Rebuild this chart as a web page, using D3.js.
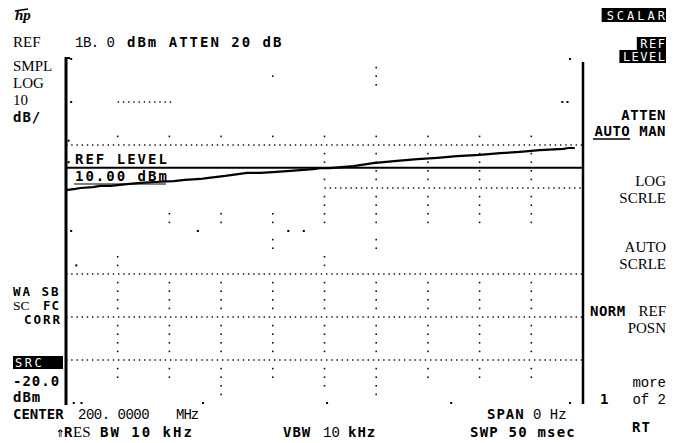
<!DOCTYPE html>
<html><head><meta charset="utf-8">
<script src="https://cdn.jsdelivr.net/npm/d3@7"></script>
<style>
body{margin:0;background:#fff}
.b{font-family:"DejaVu Sans Mono";font-weight:bold;font-size:14px;fill:#000}
.bs{font-family:"DejaVu Sans Mono";font-weight:bold;font-size:12.5px;fill:#000}
.s{font-family:"Liberation Serif";font-size:15px;fill:#000}
.ss{font-family:"Liberation Serif";font-size:13.5px;fill:#000}
.m{font-family:"Liberation Mono";font-size:14px;fill:#000}
.w{font-family:"DejaVu Sans Mono";font-size:12px;fill:#fff}
</style>
</head><body>
<svg id="c" width="682" height="443"></svg>
<script>
// ---- data ----
const sweepMs = [0,0.9,1.4,2.6,3.3,4.3,5.9,7.2,8.6,10.4,11.5,13.0,13.6,15.4,17.5,18.8,20.0,21.7,23.9,24.6,25.5,27.8,29.7,32.0,34.0,35.9,37.8,40.0,42.0,43.9,45.8,48.1,48.6,49.2];
const traceDb = [-12.5,-12.2,-12.0,-11.8,-11.5,-11.5,-11.1,-10.8,-10.6,-10.4,-10.1,-9.9,-9.7,-9.2,-8.5,-8.5,-8.3,-8.0,-7.6,-7.4,-7.4,-6.9,-6.2,-5.7,-5.3,-5.0,-4.6,-4.3,-3.9,-3.6,-3.2,-2.9,-2.7,-2.7];
const refLineDb = -7.3;
const topDb = 18, dbPerDiv = 10, vDivs = 8, hDivs = 10, sweepTime = 50;
const minorPerDiv = 5;
// graticule minor-dot rows (index of minor step from top) shown on each vertical division line
const colDots = {
  1:[9,23,24,26,27,28,29,31,32,33,34,36,37],
  2:[9,18,19,26,27,28,29,31,32,33,34,36,37],
  3:[9,18,19,26,27,28,29,31,32,33,34,36,37,38,39],
  4:[2,9,18,19,21,22,26,27,28,29,31,32,33,34,36,37],
  5:[9,11,12,14,16,17,18,19,23,24,26,27,28,29,31,32,33,34,36,37,38],
  6:[1,2,3,9,11,12,13,14,16,17,18,19,21,22,26,27,28,29,31,32,33,34,36,37,38,39],
  7:[9,11,12,13,14,16,17,18,19,26,27,28,29,31,32,33,34,36,37],
  8:[9,11,12,13,14,16,17,18,19,26,27,28,29,31,32,33,34,36,37],
  9:[9,11,12,13,14,16,17,18,19,26,27,28,29,31,32,33,34,36,37]
};
// dotted horizontal division lines: [division, fromDiv, toDiv]
const rowLines = [[1,1,2.05],[2,0,10],[3,5,10],[5,0,10],[6,0,10],[7,0,10]];

const svg = d3.select('#c');
const x = d3.scaleLinear().domain([0, sweepTime]).range([66, 583]);
const y = d3.scaleLinear().domain([topDb, topDb - vDivs*dbPerDiv]).range([59, 403]);
const xd = d3.scaleLinear().domain([0, hDivs]).range([66, 583]);
const yk = k => y(topDb - k*dbPerDiv/minorPerDiv);

// horizontal dotted graticule
svg.append('g').selectAll('line').data(rowLines).join('line')
  .attr('x1', d => xd(d[1])).attr('x2', d => xd(d[2]))
  .attr('y1', d => y(topDb - d[0]*dbPerDiv)).attr('y2', d => y(topDb - d[0]*dbPerDiv))
  .attr('stroke', '#111').attr('stroke-width', 1.4).attr('stroke-dasharray', '1.4,3.8');

// vertical dotted graticule (minor dots)
const dots = [];
Object.entries(colDots).forEach(([c, ks]) => ks.forEach(k => dots.push([+c, k])));
svg.append('g').selectAll('rect').data(dots).join('rect')
  .attr('x', d => xd(d[0]) - 0.8).attr('y', d => yk(d[1]) - 0.8)
  .attr('width', 1.6).attr('height', 1.6).attr('fill', '#111');

// stray edge dots
const edgeDots = [[0.1,0],[0.1,5],[0.05,9.5],[0.05,12],[0.1,20],[0.2,24],[0.15,40],[0.3,40],[2.65,40],[5.05,40],[7.45,40],[9.75,40],[9.75,0],[9.6,5],[9.7,5],[2.55,20],[4.3,20],[4.6,20]];
svg.append('g').selectAll('rect').data(edgeDots).join('rect')
  .attr('x', d => xd(d[0]) - 1).attr('y', d => yk(d[1]) - 1)
  .attr('width', 2).attr('height', 2).attr('fill', '#000');

// frame
svg.append('line').attr('x1', xd(0)).attr('x2', xd(0)).attr('y1', 57).attr('y2', 405)
  .attr('stroke', '#000').attr('stroke-width', 3);
svg.append('line').attr('x1', xd(0)).attr('x2', xd(0)+4).attr('y1', 58).attr('y2', 58)
  .attr('stroke', '#000').attr('stroke-width', 2);
svg.append('line').attr('x1', xd(10)).attr('x2', xd(10)).attr('y1', 62).attr('y2', 404)
  .attr('stroke', '#000').attr('stroke-width', 2.5);

// reference level line
svg.append('line').attr('x1', xd(0)).attr('x2', xd(10)).attr('y1', y(refLineDb)).attr('y2', y(refLineDb))
  .attr('stroke', '#000').attr('stroke-width', 2);

// trace
const line = d3.line().x((d, i) => x(sweepMs[i])).y(d => y(d));
svg.append('path').datum(traceDb).attr('d', line)
  .attr('fill', 'none').attr('stroke', '#000').attr('stroke-width', 2.2);

// ---- text ----
function t(xp, yp, s, cls, anchor, ls) {
  return svg.append('text').attr('x', xp).attr('y', yp).attr('class', cls)
    .attr('text-anchor', anchor || 'start')
    .style('letter-spacing', (ls === undefined ? (cls === 'b' ? 2 : 0) : ls) + 'px').text(s);
}
function inv(right, y0, h, s, ls) {
  const tx = svg.append('text').attr('x', right - 1).attr('y', y0 + h - 2).attr('class', 'w')
    .attr('text-anchor', 'end').style('letter-spacing', ls + 'px').text(s);
  const bb = tx.node().getBBox();
  svg.insert('rect', () => tx.node()).attr('x', bb.x - 2).attr('y', y0)
    .attr('width', right - bb.x + 2).attr('height', h).attr('fill', '#000');
  tx.attr('x', right - 1 + ls);
}
svg.append('text').attr('x', 15).attr('y', 20).text('hp')
  .attr('font-family', 'Liberation Serif').attr('font-style', 'italic').attr('font-weight', 'bold').attr('font-size', 15);
svg.append('line').attr('x1', 15).attr('x2', 28).attr('y1', 11).attr('y2', 9).attr('stroke', '#000').attr('stroke-width', 1.5);
t(13, 47, 'REF', 's');
t(75, 47, '1B. 0', 'm', 'start', -0.5);
t(127, 47, 'dBm ATTEN 20 dB', 'b');
t(13, 71, 'SMPL', 's');
t(13, 88, 'LOG', 's');
t(13, 105, '10', 's');
t(13, 122, 'dB/', 'b', 'start', 1);

t(75, 164, 'REF LEVEL', 'b');
t(75, 181, '10.00 dBm', 'b');
svg.append('line').attr('x1', 74).attr('x2', 166).attr('y1', 184).attr('y2', 184).attr('stroke', '#000').attr('stroke-width', 1.2);

t(13, 296, 'WA SB', 'bs', 'start', 2);
t(13, 310, 'SC', 'ss'); t(43, 310, 'FC', 'bs', 'start', 1);
t(24, 324, 'CORR', 'bs', 'start', 2);
// SRC inverted box
svg.append('rect').attr('x', 13).attr('y', 356).attr('width', 50).attr('height', 13).attr('fill', '#000');
t(15, 367, 'SRC', 'w', 'start', 2.5);
t(13, 386, '-20.0', 'b', 'start', 1);
t(13, 402, 'dBm', 'b', 'start', 1);
t(13, 419, 'CENTER', 'b', 'start', 0);
t(78, 419, '200. 0000', 'm', 'start', -0.5);
t(176, 419, 'MHz', 'm', 'start', -1);
t(56, 437, '⇑', 'b', 'start', 0); t(64, 437, 'R', 'b', 'start', 0); t(73, 437, 'ES', 's'); t(100, 437, 'BW 10 kHz', 'b');
t(283, 437, 'VBW', 'b', 'start', 1); t(323, 437, '10', 'm'); t(348, 437, 'kHz', 'b', 'start', 1);
t(487, 419, 'SPAN', 'b', 'start', 1); t(533, 419, '0 Hz', 'm');
t(470, 437, 'SWP 50 msec', 'b', 'start', 1.2);

// softkeys
inv(666, 8, 14, 'SCALAR', 3);
inv(666, 37, 13, 'REF', 1.5);
inv(666, 50, 13, 'LEVEL', 1.5);
t(666, 120, 'ATTEN', 'b', 'end', 0.5);
t(666, 136, 'AUTO MAN', 'b', 'end', 0.5);
svg.append('line').attr('x1', 593).attr('x2', 630).attr('y1', 139).attr('y2', 139).attr('stroke', '#000').attr('stroke-width', 1.3);
t(666, 186, 'LOG', 's', 'end');
t(666, 203, 'SCRLE', 's', 'end');
t(666, 252, 'AUTO', 's', 'end');
t(666, 269, 'SCRLE', 's', 'end');
t(590, 316, 'NORM', 'b', 'start', 0.5); t(666, 316, 'REF', 's', 'end');
t(666, 333, 'POSN', 's', 'end');
t(666, 387, 'more', 'm', 'end');
t(600, 404, '1', 'b'); t(666, 404, 'of 2', 'm', 'end');
t(632, 432, 'RT', 'b', 'start', 1);
</script>
</body></html>
